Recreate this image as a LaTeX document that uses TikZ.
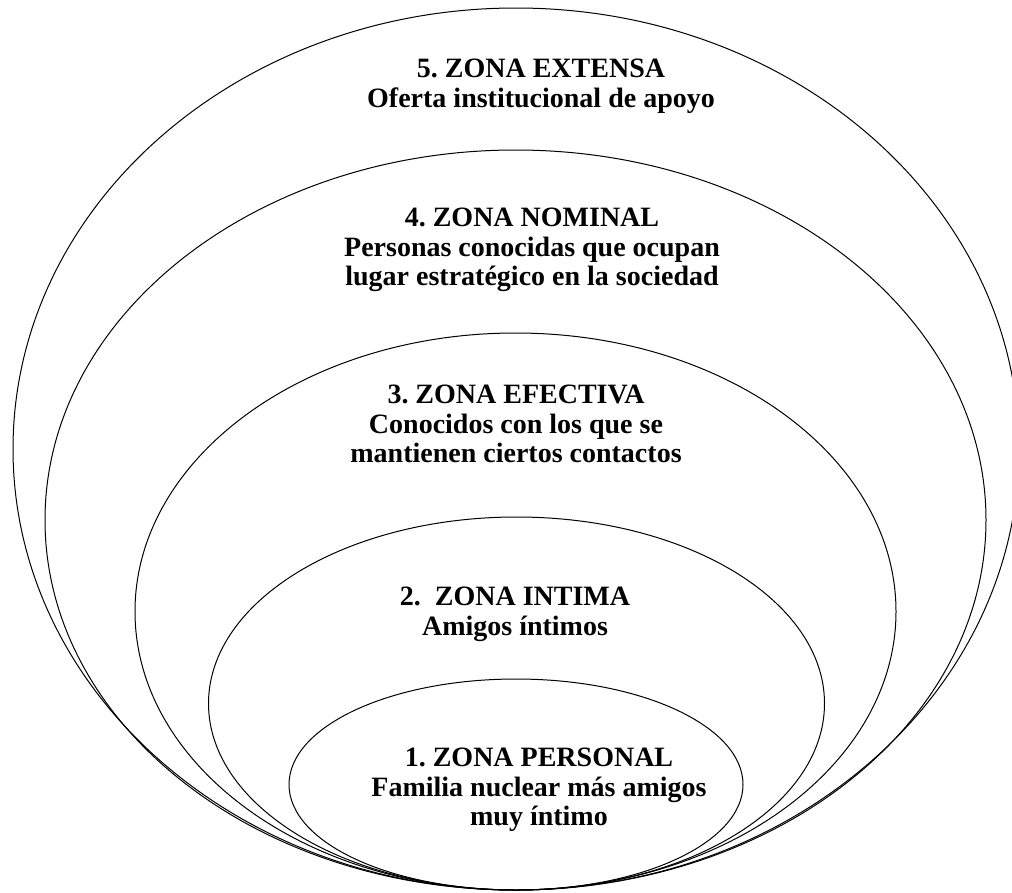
\documentclass[tikz,border=0pt]{standalone}
\usepackage{fontspec}
\setmainfont{Liberation Serif}
\frenchspacing
\begin{document}
\begin{tikzpicture}[x=1pt,y=-1pt,
  zone/.style={draw=black, line width=1pt},
  lbl/.style={anchor=north, inner sep=0pt, align=center, font=\fontsize{28}{29.5}\selectfont\bfseries}]
\useasboundingbox (0,0) rectangle (1012,892);
\begin{scope}
\clip (0,0) rectangle (1012,892);
\draw[zone] (516,449) ellipse [x radius=503pt, y radius=441pt];
\draw[zone] (515.5,520) ellipse [x radius=470.5pt, y radius=370pt];
\draw[zone] (515.5,611.5) ellipse [x radius=380.5pt, y radius=278.5pt];
\draw[zone] (516.5,703.5) ellipse [x radius=308pt, y radius=186.5pt];
\draw[zone] (516,784.5) ellipse [x radius=227pt, y radius=105.5pt];
\end{scope}
\node[lbl] (z5) at (541,59) {5. ZONA EXTENSA\\Oferta institucional de apoyo};
\node[lbl] (z4) at (532,208) {4. ZONA NOMINAL\\Personas conocidas que ocupan\\lugar estratégico en la sociedad};
\node[lbl] (z3) at (516,385) {3. ZONA EFECTIVA\\Conocidos con los que se\\mantienen ciertos contactos};
\node[lbl] (z2) at (515,587) {2.\ \ ZONA INTIMA\\Amigos íntimos};
\node[lbl] (z1) at (539,748) {1. ZONA PERSONAL\\Familia nuclear más amigos\\muy íntimo};
\end{tikzpicture}
\end{document}
